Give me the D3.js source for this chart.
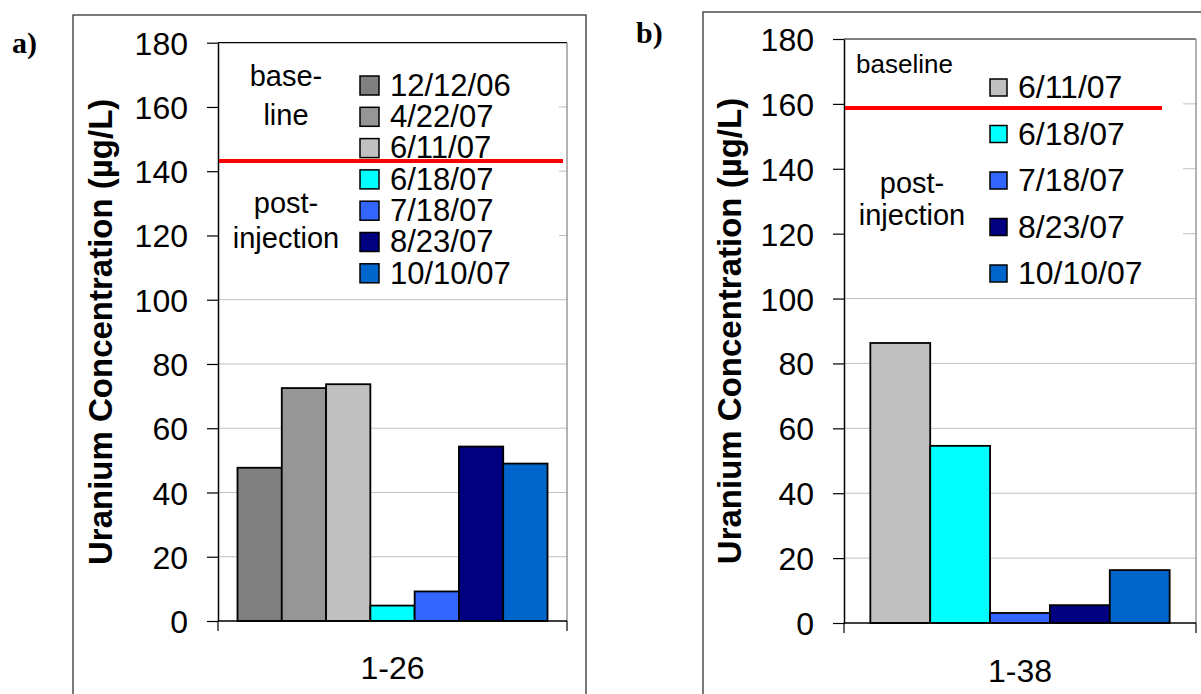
<!DOCTYPE html>
<html>
<head>
<meta charset="utf-8">
<script src="https://cdn.jsdelivr.net/npm/d3@7"></script>
<style>
  html, body { margin: 0; padding: 0; background: #fff; }
  svg { display: block; }
  text { font-family: "Liberation Sans", Arial, sans-serif; fill: #000; }
</style>
</head>
<body>
<svg id="chart" width="1201" height="694"></svg>
<script>
  // ---- data ----
  var datesA = ['12/12/06', '4/22/07', '6/11/07', '6/18/07', '7/18/07', '8/23/07', '10/10/07'];
  var valuesA = [47.7, 72.5, 73.7, 4.8, 9.2, 54.3, 49.0];
  var wellA = '1-26';
  var baselineA = 143.2;

  var datesB = ['6/11/07', '6/18/07', '7/18/07', '8/23/07', '10/10/07'];
  var valuesB = [86.3, 54.6, 3.1, 5.5, 16.3];
  var wellB = '1-38';
  var baselineB = 158.7;

  var yTicks = [0, 20, 40, 60, 80, 100, 120, 140, 160, 180];
  var yTitle = 'Uranium Concentration (\u00b5g/L)';

  var dateColors = {
    '12/12/06': '#808080',
    '4/22/07': '#969696',
    '6/11/07': '#c0c0c0',
    '6/18/07': '#00ffff',
    '7/18/07': '#3366ff',
    '8/23/07': '#000080',
    '10/10/07': '#0066cc'
  };

  var svg = d3.select('#chart');

  // layout for each panel (positions only)
  var panels = [
    {
      letter: 'a)', letterX: 12, letterY: 53,
      dates: datesA, values: valuesA, well: wellA, baseline: baselineA,
      frame: { x: 73, y: 15, w: 513, h: 720 },
      plot: { left: 218, right: 567, top: 42.7, bottom: 621 },
      redEnd: 563,
      titleX: 112, wellY: 679,
      legendBox: { x0: 219, x1: 559, y0: 44, y1: 292 },
      swatchX: 360, swatch: 19, rowY: 85.5, rowStep: 31.3, legendTextX: 390, legendFont: 31,
      notes: [
        { text: 'base-', x: 286, y: 86, anchor: 'middle', size: 29 },
        { text: 'line', x: 286, y: 125, anchor: 'middle', size: 29 },
        { text: 'post-', x: 286, y: 213, anchor: 'middle', size: 29 },
        { text: 'injection', x: 286, y: 248, anchor: 'middle', size: 29 }
      ]
    },
    {
      letter: 'b)', letterX: 636, letterY: 43,
      dates: datesB, values: valuesB, well: wellB, baseline: baselineB,
      frame: { x: 703, y: 12, w: 540, h: 720 },
      plot: { left: 844, right: 1196, top: 39, bottom: 623 },
      redEnd: 1162,
      titleX: 741, wellY: 682,
      legendBox: { x0: 845, x1: 1183, y0: 40, y1: 290 },
      swatchX: 990, swatch: 17, rowY: 87.5, rowStep: 46.5, legendTextX: 1018, legendFont: 32,
      notes: [
        { text: 'baseline', x: 856, y: 73, anchor: 'start', size: 26 },
        { text: 'post-', x: 912, y: 193, anchor: 'middle', size: 29 },
        { text: 'injection', x: 912, y: 225, anchor: 'middle', size: 29 }
      ]
    }
  ];

  panels.forEach(drawPanel);

  function drawPanel(p) {
    var g = svg.append('g');
    var plot = p.plot;

    // outer chart frame
    g.append('rect')
      .attr('x', p.frame.x).attr('y', p.frame.y)
      .attr('width', p.frame.w).attr('height', p.frame.h)
      .attr('fill', 'none').attr('stroke', '#333').attr('stroke-width', 1.3);

    // panel letter
    g.append('text')
      .attr('x', p.letterX).attr('y', p.letterY)
      .style('font-family', '"Liberation Serif", "Times New Roman", serif')
      .style('font-weight', 'bold').style('font-size', '30px')
      .text(p.letter);

    var y = d3.scaleLinear().domain([0, 180]).range([plot.bottom, plot.top]);
    var x = d3.scaleBand().domain(p.dates)
      .range([plot.left, plot.right])
      .paddingInner(0).paddingOuter(0.44);

    // gridlines
    g.append('g').selectAll('line')
      .data(yTicks.filter(function(t) { return t > 0 && t < 180; }))
      .enter().append('line')
      .attr('x1', plot.left).attr('x2', plot.right)
      .attr('y1', function(d) { return y(d); })
      .attr('y2', function(d) { return y(d); })
      .attr('stroke', '#c0c0c0').attr('stroke-width', 1);

    // plot area top and right borders
    g.append('line')
      .attr('x1', plot.left).attr('x2', plot.right)
      .attr('y1', plot.top).attr('y2', plot.top)
      .attr('stroke', '#000').attr('stroke-width', 1.2);
    g.append('line')
      .attr('x1', plot.right).attr('x2', plot.right)
      .attr('y1', plot.top).attr('y2', plot.bottom)
      .attr('stroke', '#808080').attr('stroke-width', 1.2);

    // bars
    g.append('g').selectAll('rect')
      .data(p.dates.map(function(d, i) { return { date: d, value: p.values[i] }; }))
      .enter().append('rect')
      .attr('x', function(d) { return x(d.date); })
      .attr('y', function(d) { return y(d.value); })
      .attr('width', x.bandwidth())
      .attr('height', function(d) { return y(0) - y(d.value); })
      .attr('fill', function(d) { return dateColors[d.date]; })
      .attr('stroke', '#000').attr('stroke-width', 1.8);

    // legend (white box hides the gridlines behind it)
    var lb = p.legendBox;
    g.append('rect')
      .attr('x', lb.x0).attr('y', lb.y0)
      .attr('width', lb.x1 - lb.x0).attr('height', lb.y1 - lb.y0)
      .attr('fill', '#fff');

    var rows = g.append('g').selectAll('g')
      .data(p.dates).enter().append('g')
      .attr('transform', function(d, i) { return 'translate(0,' + (p.rowY + i * p.rowStep) + ')'; });
    rows.append('rect')
      .attr('x', p.swatchX).attr('y', -p.swatch / 2)
      .attr('width', p.swatch).attr('height', p.swatch)
      .attr('fill', function(d) { return dateColors[d]; })
      .attr('stroke', '#000').attr('stroke-width', 1.5);
    rows.append('text')
      .attr('x', p.legendTextX).attr('y', 0).attr('dy', '0.33em')
      .style('font-size', p.legendFont + 'px')
      .text(function(d) { return d; });

    g.append('g').selectAll('text')
      .data(p.notes).enter().append('text')
      .attr('x', function(d) { return d.x; })
      .attr('y', function(d) { return d.y; })
      .attr('text-anchor', function(d) { return d.anchor; })
      .style('font-size', function(d) { return d.size + 'px'; })
      .text(function(d) { return d.text; });

    // y axis
    var yAxis = g.append('g')
      .attr('transform', 'translate(' + plot.left + ',0)')
      .call(d3.axisLeft(y).tickValues(yTicks).tickSize(11).tickPadding(19).tickSizeOuter(0));
    yAxis.select('.domain').attr('stroke', '#000').attr('stroke-width', 1.5);
    yAxis.selectAll('.tick line').attr('stroke', '#000').attr('stroke-width', 1.2);
    yAxis.selectAll('.tick text')
      .attr('dy', '0.36em')
      .style('font-family', '"Liberation Sans", Arial, sans-serif')
      .style('font-size', '32px').attr('fill', '#000');

    // x axis with end ticks
    var x0 = d3.scaleBand().domain([p.well]).range([plot.left, plot.right]);
    g.append('line')
      .attr('x1', plot.left).attr('x2', plot.right)
      .attr('y1', y(0)).attr('y2', y(0))
      .attr('stroke', '#000').attr('stroke-width', 1.5);
    g.append('g').selectAll('line')
      .data(x0.range()).enter().append('line')
      .attr('x1', function(d) { return d; }).attr('x2', function(d) { return d; })
      .attr('y1', y(0)).attr('y2', y(0) + 10)
      .attr('stroke', '#000').attr('stroke-width', 1.2);
    g.append('text')
      .attr('x', x0(p.well) + x0.bandwidth() / 2).attr('y', p.wellY)
      .attr('text-anchor', 'middle')
      .style('font-size', '32px')
      .text(p.well);

    // y title
    g.append('text')
      .attr('transform', 'translate(' + p.titleX + ',' + ((plot.top + plot.bottom) / 2) + ') rotate(-90)')
      .attr('text-anchor', 'middle')
      .style('font-size', '33px').style('font-weight', 'bold')
      .text(yTitle);

    // baseline / post-injection divider, drawn over the legend
    g.append('line')
      .attr('x1', plot.left + 1).attr('x2', p.redEnd)
      .attr('y1', y(p.baseline)).attr('y2', y(p.baseline))
      .attr('stroke', '#ff0000').attr('stroke-width', 4);
  }
</script>
</body>
</html>
